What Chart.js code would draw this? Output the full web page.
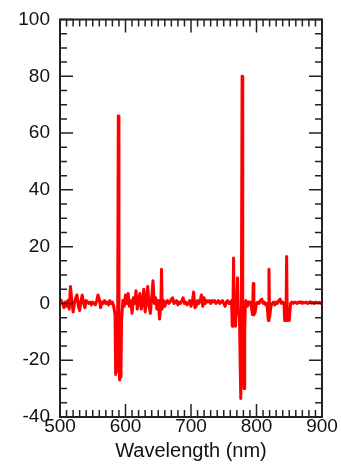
<!DOCTYPE html>
<html>
<head>
<meta charset="utf-8">
<script src="https://cdn.jsdelivr.net/npm/chart.js@4/dist/chart.umd.min.js"></script>
<style>
html,body{margin:0;padding:0;background:#fff;}
#c{display:block;}
</style>
</head>
<body>
<canvas id="c" width="341" height="465"></canvas>
<script>
// Wavelength (nm)
const wavelengths = [
500,502,504,506,508,510,512,514,516,518,520,522,524,526,528,530,532,534,536,538,
540,542,544,546,548,550,552,554,556,558,560,562,564,566,568,570,572,574,576,578,
580,582,584,585,586,587,588,589,590,591,592,593,594,596,598,
600,602,604,606,608,610,612,614,616,618,620,622,624,626,628,630,632,634,636,638,
640,642,644,646,648,650,652,654,655,656,658,660,662,664,666,668,670,672,674,676,678,
680,682,684,686,688,690,692,694,696,698,700,702,704,706,708,710,712,714,716,718,
720,722,724,726,728,730,732,734,736,738,740,742,744,746,748,750,752,754,756,758,
760,762,763,764,765,766,768,770,771,772,774,775,776,777,778,779,780,781,782,783,784,
786,788,790,792,794,795,796,798,800,802,804,806,808,810,812,814,816,818,819,820,822,824,
826,828,830,832,834,836,838,840,842,843,844,845,846,847,849,850,852,854,856,858,
860,862,864,866,868,870,872,874,876,878,880,882,884,886,888,890,892,894,896,898,900
];
// Signal values
const signal = [
1.5,1,0,-1.5,0.5,-1,1,-2,6,1,-3,0,2,3,-1,-2.5,1,3,0,-1.5,
1,0.5,0,0.5,-0.5,0.5,0,-0.5,1,3,1.5,-1.5,0.5,0,1,0,0.5,-0.5,1,0,
0.5,-1,-4,-25,-10,-24,-8,66,-15,-27,-20,-26,-6,1,-1,
3,0,3.5,-1,1,-3.5,2,0,4.5,-2,1,3.5,-2,0,5,-3,1,6,-1,-3.5,
2,8,0,2,-2,1,-5.5,0,12,-2,1,-1,0.5,1,0,0.5,1.5,2,0,0.5,1,
-0.5,0.5,0,1,2,0,0.5,-0.5,0,1,-1,0.5,4,-1.5,-1,1,0,1,3,-1,
2,0,1,0.5,1,0,1,0.5,1,0,0.5,1,0,0.5,1,0,-1,0.5,1,0,
0,1,-8,-2,16,-7,-8,2,9,-2,-5,-20,-33.5,5,80,-10,-25,-30,-10,0,1,
-1,0.5,0.5,-1,-4,7,-4,-3,0,0.5,0,1,1.5,0,0.5,-0.5,0,-6,12,-5,-1,0,
0.5,-0.5,0.5,0,1,1.5,0,0.5,0,-6,-5,-6,16.5,-6,-5,-6,0,0.5,0,0.5,
0.3,0,0.5,0.2,0.6,0,0.4,0.2,0.5,0,0.3,0.6,0.2,0.4,0,0.5,0.3,0.2,0.4,0.1,0.3
];
const xTicks = [500,600,700,800,900];
const yTicks = [-40,-20,0,20,40,60,80,100];

const points = wavelengths.map((w,i)=>({x:w,y:signal[i]}));

const frameTicks = {
  id:'frameTicks',
  afterDatasetsDraw(chart){
    const {ctx, chartArea:a, scales:{x,y}} = chart;
    ctx.save();
    ctx.strokeStyle = '#222';
    ctx.lineWidth = 1.5;
    ctx.beginPath();
    for(let v=500; v<=900; v+=10){
      const px = x.getPixelForValue(v);
      const len = (v%100===0)?13:7;
      ctx.moveTo(px,a.bottom); ctx.lineTo(px,a.bottom-len);
      ctx.moveTo(px,a.top); ctx.lineTo(px,a.top+len);
    }
    for(let v=-40; v<=100; v+=5){
      const py = y.getPixelForValue(v);
      const len = (v%20===0)?13:7;
      ctx.moveTo(a.left,py); ctx.lineTo(a.left+len,py);
      ctx.moveTo(a.right,py); ctx.lineTo(a.right-len,py);
    }
    ctx.stroke();
    ctx.lineWidth = 2;
    ctx.strokeRect(a.left, a.top, a.right-a.left, a.bottom-a.top);
    ctx.restore();
  }
};

new Chart(document.getElementById('c'), {
  type:'line',
  data:{datasets:[{
    data:points,
    borderColor:'#ff0000',
    borderWidth:3,
    borderJoinStyle:'round',
    borderCapStyle:'round',
    pointRadius:0,
    tension:0,
    fill:false
  }]},
  options:{
    responsive:false,
    animation:false,
    events:[],
    layout:{padding:{top:15,right:19,left:0,bottom:0}},
    plugins:{legend:{display:false},tooltip:{enabled:false}},
    scales:{
      x:{
        type:'linear', min:500, max:900,
        afterFit(s){ s.height = 48; },
        afterBuildTicks(s){ s.ticks = xTicks.map(v=>({value:v})); },
        grid:{display:false, drawTicks:false},
        border:{display:false},
        ticks:{color:'#111', font:{family:'Liberation Sans, Arial, sans-serif', size:19, lineHeight:1}, padding:0, maxRotation:0, autoSkip:false},
        title:{display:true, text:'Wavelength (nm)', color:'#111', font:{family:'Liberation Sans, Arial, sans-serif', size:20, lineHeight:1.2}, padding:{top:0,bottom:2}}
      },
      y:{
        type:'linear', min:-40, max:100,
        afterFit(s){ s.width = 60; },
        afterBuildTicks(s){ s.ticks = yTicks.map(v=>({value:v})); },
        grid:{display:false, drawTicks:false},
        border:{display:false},
        ticks:{color:'#111', font:{family:'Liberation Sans, Arial, sans-serif', size:19, lineHeight:1}, padding:10, autoSkip:false}
      }
    }
  },
  plugins:[frameTicks]
});
</script>
</body>
</html>
